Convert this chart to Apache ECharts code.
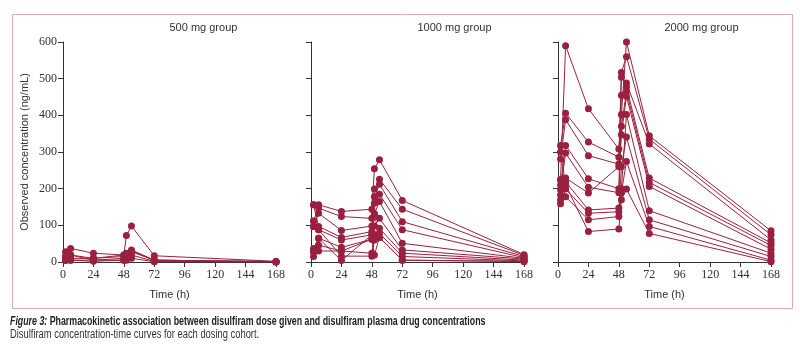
<!DOCTYPE html>
<html>
<head>
<meta charset="utf-8">
<script src="https://cdn.jsdelivr.net/npm/echarts@6/dist/echarts.min.js"></script>
<style>
html,body{margin:0;padding:0;background:#ffffff;}
#c{width:800px;height:353px;}
</style>
</head>
<body>
<div id="c"></div>
<script>
// Sampling times (h)
var times = [2, 6, 24, 48, 50, 54, 72, 168];
var xTicks = [0, 24, 48, 72, 96, 120, 144, 168];
var yTicks = [0, 100, 200, 300, 400, 500, 600];
var groupTitles = ['500 mg group', '1000 mg group', '2000 mg group'];

// Observed concentrations (ng/mL), one row per participant, values at `times`
var group500 = [
  [28, 37, 24, 19, 72, 98, 17, 2],
  [15, 19, 10, 15, 19, 33, 5, 1],
  [5, 19, 5, 5, 10, 28, 5, 1],
  [5, 5, 5, 10, 19, 19, 2, 0],
  [15, 10, 10, 19, 24, 30, 5, 1],
  [5, 5, 2, 5, 5, 10, 1, 0]
];
var group1000 = [
  [156, 156, 138, 144, 254, 279, 168, 20],
  [112, 147, 124, 119, 199, 226, 144, 18],
  [97, 133, 86, 98, 178, 212, 110, 15],
  [156, 97, 67, 83, 160, 185, 88, 12],
  [112, 88, 60, 74, 131, 165, 51, 10],
  [37, 65, 40, 62, 98, 119, 33, 8],
  [28, 46, 30, 24, 74, 92, 24, 5],
  [97, 88, 16, 16, 60, 78, 15, 3],
  [15, 65, 4, 74, 131, 67, 5, 2],
  [28, 30, 30, 62, 19, 67, 5, 1]
];
var group2000 = [
  [224, 590, 418, 308, 402, 600, 344, 85],
  [318, 406, 327, 286, 517, 560, 335, 74],
  [281, 388, 290, 267, 504, 488, 322, 60],
  [210, 318, 227, 200, 455, 477, 229, 52],
  [197, 297, 204, 189, 370, 465, 217, 45],
  [183, 229, 188, 260, 347, 452, 206, 35],
  [169, 219, 142, 147, 200, 402, 140, 24],
  [159, 199, 133, 137, 260, 341, 115, 15],
  [224, 178, 115, 124, 189, 274, 97, 5],
  [300, 210, 83, 90, 170, 199, 78, 1]
];
var groups = [group500, group1000, group2000];

var color = '#99213f';
var axisColor = '#333333';
var gridLefts = [63, 311, 558];
var gridWidth = 213;

var grids = [], xAxes = [], yAxes = [], series = [], graphics = [];
gridLefts.forEach(function (left, gi) {
  grids.push({left: left, top: 42, width: gridWidth, height: 220, containLabel: false});
  xAxes.push({
    type: 'value', gridIndex: gi, min: xTicks[0], max: xTicks[xTicks.length - 1], interval: 24,
    axisLine: {lineStyle: {color: axisColor, width: 1}},
    axisTick: {show: true, inside: false, length: 5, lineStyle: {color: axisColor}},
    splitLine: {show: false},
    axisLabel: {color: '#333', fontSize: 12, fontFamily: 'Liberation Serif', margin: 7},
    name: 'Time (h)', nameLocation: 'middle', nameGap: 27,
    nameTextStyle: {color: '#333', fontSize: 11, fontFamily: 'Liberation Sans'}
  });
  yAxes.push({
    type: 'value', gridIndex: gi, min: yTicks[0], max: yTicks[yTicks.length - 1], interval: 100,
    axisLine: {show: true, lineStyle: {color: axisColor, width: 1}},
    axisTick: {show: true, inside: false, length: 5, lineStyle: {color: axisColor}},
    splitLine: {show: false},
    axisLabel: {show: gi === 0, color: '#333', fontSize: 12, fontFamily: 'Liberation Serif', margin: 6},
    name: gi === 0 ? 'Observed concentration (ng/mL)' : '',
    nameLocation: 'middle', nameGap: 33, nameRotate: 90,
    nameTextStyle: {color: '#333', fontSize: 11, fontFamily: 'Liberation Sans'}
  });
  groups[gi].forEach(function (subj) {
    series.push({
      type: 'line', xAxisIndex: gi, yAxisIndex: gi,
      data: subj.map(function (v, k) { return [times[k], v]; }),
      symbol: 'circle', symbolSize: 7, showSymbol: true,
      lineStyle: {color: color, width: 1},
      itemStyle: {color: color},
      animation: false, silent: true
    });
  });
  graphics.push({
    type: 'text', left: left + gridWidth / 2, top: 22,
    style: {text: groupTitles[gi], fill: '#333', font: '11px "Liberation Sans"', textAlign: 'center'}
  });
});

// outer frame
graphics.push({
  type: 'rect', left: 10, top: 12, z: -1,
  shape: {width: 780, height: 294},
  style: {fill: 'none', stroke: '#e2a9b4', lineWidth: 1}
});
// caption
graphics.push({
  type: 'text', x: 10, y: 316, scaleX: 0.735, originX: 0,
  style: {
    text: '{i|Figure 3:} {b|Pharmacokinetic association between disulfiram dose given and disulfiram plasma drug concentrations}',
    rich: {
      i: {font: 'italic bold 12px "Liberation Sans"', fill: '#222'},
      b: {font: 'bold 12px "Liberation Sans"', fill: '#222'}
    }
  }
});
graphics.push({
  type: 'text', x: 10, y: 329, scaleX: 0.78, originX: 0,
  style: {text: 'Disulfiram concentration-time curves for each dosing cohort.', font: '12px "Liberation Sans"', fill: '#333'}
});

var chart = echarts.init(document.getElementById('c'), null, {renderer: 'canvas'});
chart.setOption({
  backgroundColor: '#ffffff',
  animation: false,
  grid: grids, xAxis: xAxes, yAxis: yAxes, series: series, graphic: graphics
});
</script>
</body>
</html>
